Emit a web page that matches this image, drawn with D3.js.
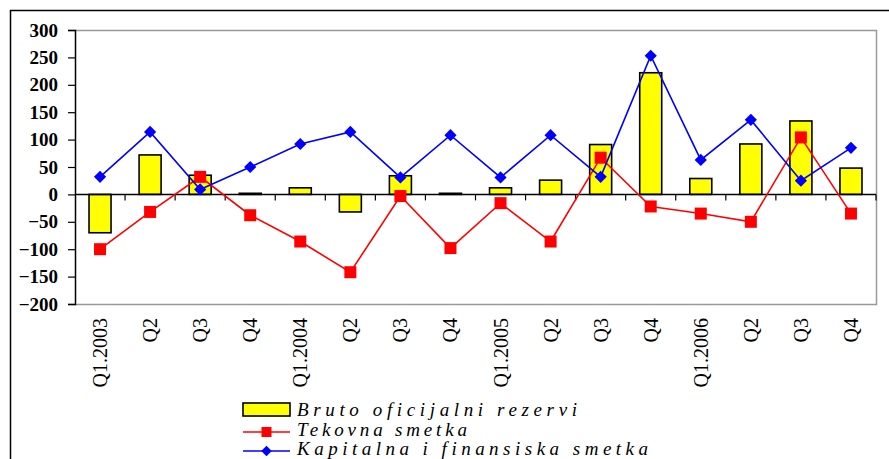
<!DOCTYPE html>
<html>
<head>
<meta charset="utf-8">
<script src="https://cdn.jsdelivr.net/npm/d3@7"></script>
<style>
body { margin:0; background:#fff; }
svg { display:block; }
svg text { font-family: "Liberation Serif", "Times New Roman", Times, "DejaVu Serif", serif; }
</style>
</head>
<body>
<div id="chart"></div>
<script>
var quarters = ["Q1.2003","Q2","Q3","Q4","Q1.2004","Q2","Q3","Q4","Q1.2005","Q2","Q3","Q4","Q1.2006","Q2","Q3","Q4"];
var rezervi = [-70, 72, 35, 2, 12, -32, 34, 2, 12, 26, 91, 222, 29, 92, 134, 48];
var tekovna = [-100, -32, 32, -38, -86, -142, -3, -98, -16, -86, 67, -22, -35, -50, 104, -35];
var kapitalna = [32, 114, 9, 50, 92, 114, 31, 108, 31, 108, 32, 253, 63, 136, 25, 85];
var yTicks = [-200, -150, -100, -50, 0, 50, 100, 150, 200, 250, 300];
var seriesNames = ["Bruto oficijalni rezervi", "Tekovna smetka", "Kapitalna i finansiska smetka"];

var w = 889, h = 459;
var plot = {left:75, right:876, top:30, bottom:304};

var svg = d3.select("#chart").append("svg")
  .attr("width", w)
  .attr("height", h);

// outer frame (only top and left edges visible)
svg.append("path")
  .attr("d", "M10.5," + h + "V10.5H" + w)
  .attr("fill", "none")
  .attr("stroke", "#000")
  .attr("stroke-width", 1.5);

var idx = d3.range(quarters.length);
var x = d3.scaleBand()
  .domain(idx)
  .range([plot.left, plot.right]);

var y = d3.scaleLinear()
  .domain([-200, 300])
  .range([plot.bottom, plot.top]);

// plot area border
svg.append("path")
  .attr("d", "M" + plot.left + "," + (plot.top + 0.5) + "H" + (plot.right + 0.5) + "V" + (plot.bottom + 0.5) + "H" + plot.left)
  .attr("fill", "none")
  .attr("stroke", "#999")
  .attr("stroke-width", 1.5);

// y axis
var yAxis = d3.axisLeft(y)
  .tickValues(yTicks)
  .tickSize(7)
  .tickPadding(10);
var gy = svg.append("g")
  .attr("transform", "translate(" + plot.left + ",0)")
  .call(yAxis);
gy.attr("font-family", null).attr("font-size", null);
gy.select(".domain").attr("stroke", "#000").attr("stroke-width", 1.5);
gy.selectAll(".tick line").attr("stroke", "#000").attr("stroke-width", 1.2);
gy.selectAll("text")
  .style("font-weight", "bold")
  .style("font-size", "19px")
  .attr("fill", "#000");

// bars
svg.append("g")
  .selectAll("rect")
  .data(rezervi)
  .enter()
  .append("rect")
  .attr("x", function(d, i){ return x(i) + x.bandwidth()/2 - 11; })
  .attr("y", function(d){ return y(Math.max(0, d)); })
  .attr("width", 22)
  .attr("height", function(d){ return Math.abs(y(d) - y(0)); })
  .attr("fill", "#ffff00")
  .attr("stroke", "#000")
  .attr("stroke-width", 1.6);

// zero line with ticks at category boundaries
var zero = svg.append("g");
zero.append("line")
  .attr("x1", plot.left).attr("x2", plot.right)
  .attr("y1", y(0)).attr("y2", y(0))
  .attr("stroke", "#000").attr("stroke-width", 1.5);
zero.selectAll("line.tk")
  .data(d3.range(1, quarters.length + 1))
  .enter()
  .append("line")
  .attr("class", "tk")
  .attr("x1", function(d){ return plot.left + d * x.step(); })
  .attr("x2", function(d){ return plot.left + d * x.step(); })
  .attr("y1", y(0))
  .attr("y2", y(0) + 6)
  .attr("stroke", "#000")
  .attr("stroke-width", 1.2);

// x labels
svg.append("g")
  .selectAll("text")
  .data(quarters)
  .enter()
  .append("text")
  .attr("transform", function(d, i){
    return "translate(" + (x(i) + x.bandwidth()/2 + 7) + "," + 318 + ") rotate(-90)";
  })
  .attr("text-anchor", "end")
  .style("font-size", "20px")
  .text(function(d){ return d; });

var cx = function(d, i){ return x(i) + x.bandwidth()/2; };

// Tekovna smetka
svg.append("path")
  .datum(tekovna)
  .attr("fill", "none")
  .attr("stroke", "#ff0000")
  .attr("stroke-width", 1.6)
  .attr("d", d3.line().x(cx).y(function(d){ return y(d); }));
svg.append("g")
  .selectAll("rect")
  .data(tekovna)
  .enter()
  .append("rect")
  .attr("x", function(d, i){ return cx(d, i) - 6; })
  .attr("y", function(d){ return y(d) - 6; })
  .attr("width", 12)
  .attr("height", 12)
  .attr("fill", "#ff0000");

// Kapitalna i finansiska smetka
svg.append("path")
  .datum(kapitalna)
  .attr("fill", "none")
  .attr("stroke", "#0000ff")
  .attr("stroke-width", 1.6)
  .attr("d", d3.line().x(cx).y(function(d){ return y(d); }));
svg.append("g")
  .selectAll("path")
  .data(kapitalna)
  .enter()
  .append("path")
  .attr("d", d3.symbol().type(d3.symbolDiamond2).size(95))
  .attr("transform", function(d, i){ return "translate(" + cx(d, i) + "," + y(d) + ")"; })
  .attr("fill", "#0000ff");

// legend
var legend = svg.append("g").attr("transform", "translate(243,0)");
legend.append("rect")
  .attr("x", 0).attr("y", 403)
  .attr("width", 47).attr("height", 13)
  .attr("fill", "#ffff00")
  .attr("stroke", "#000")
  .attr("stroke-width", 1.6);
legend.append("line")
  .attr("x1", 0).attr("x2", 47).attr("y1", 432).attr("y2", 432)
  .attr("stroke", "#ff0000").attr("stroke-width", 1.6);
legend.append("rect")
  .attr("x", 18.5).attr("y", 427).attr("width", 10).attr("height", 10)
  .attr("fill", "#ff0000");
legend.append("line")
  .attr("x1", 0).attr("x2", 47).attr("y1", 451).attr("y2", 451)
  .attr("stroke", "#0000ff").attr("stroke-width", 1.6);
legend.append("path")
  .attr("d", d3.symbol().type(d3.symbolDiamond2).size(70))
  .attr("transform", "translate(23.5,451)")
  .attr("fill", "#0000ff");

var legendY = [416, 436, 455];
var legendLen = [280, 170, 351];
legend.selectAll("text")
  .data(seriesNames)
  .enter()
  .append("text")
  .attr("x", 54)
  .attr("y", function(d, i){ return legendY[i]; })
  .style("font-style", "italic")
  .style("font-size", "19px")
  .attr("textLength", function(d, i){ return legendLen[i]; })
  .attr("lengthAdjust", "spacing")
  .text(function(d){ return d; });
</script>
</body>
</html>
